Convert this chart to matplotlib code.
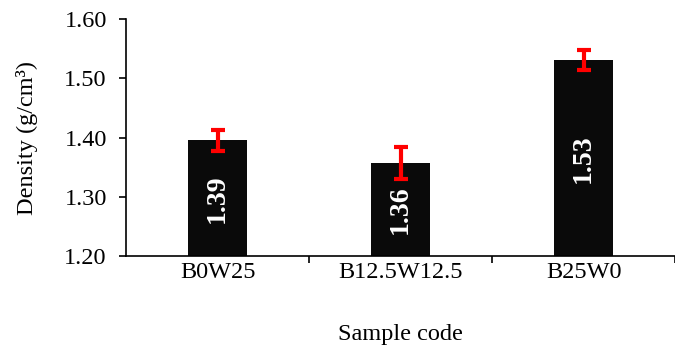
import numpy as np
import matplotlib.pyplot as plt
from matplotlib.ticker import FixedLocator

# Density of each sample with standard deviation
samples = ['B0W25', 'B12.5W12.5', 'B25W0']
density = [1.395, 1.357, 1.530]
labels = ['1.39', '1.36', '1.53']
std = [0.017, 0.027, 0.017]

plt.rcParams['font.family'] = ['Liberation Serif', 'DejaVu Serif']

fig = plt.figure(figsize=(6.75, 3.49), dpi=100)
ax = fig.add_axes([0.187, 0.266, 0.813, 0.68])

x = np.arange(len(samples))
ax.bar(x, density, width=0.32, color='#0a0a0a', zorder=2)
ax.errorbar(x, density, yerr=std, fmt='none', ecolor='#ff0000',
            elinewidth=3, capsize=5, capthick=3, zorder=3)

for xi, yi, txt in zip(x, density, labels):
    ax.text(xi, (1.20 + yi) / 2, txt, rotation=90, color='white',
            fontsize=20, fontweight='bold', ha='center', va='center', zorder=4)

ax.set_xlim(-0.5, len(samples) - 0.5)
ax.set_ylim(1.20, 1.60)
ax.set_yticks(np.arange(1.20, 1.601, 0.10))
ax.set_yticklabels(['%.2f' % v for v in np.arange(1.20, 1.601, 0.10)])
ax.set_xticks(x)
ax.set_xticklabels(samples)
ax.xaxis.set_minor_locator(FixedLocator([0.5, 1.5, 2.5]))
ax.tick_params(axis='x', which='major', length=0, labelsize=17.5, pad=4)
ax.tick_params(axis='x', which='minor', length=5, width=1.2, direction='out')
ax.tick_params(axis='y', labelsize=17.5, length=5, width=1.2, direction='out', pad=9)

for s in ['top', 'right']:
    ax.spines[s].set_visible(False)
ax.spines['left'].set_linewidth(1.2)
ax.spines['bottom'].set_linewidth(1.2)

ax.set_ylabel('Density (g/cm³)', fontsize=17.5, labelpad=19)
ax.set_xlabel('Sample code', fontsize=17.5, labelpad=30)

plt.savefig('out.png', dpi=100)
